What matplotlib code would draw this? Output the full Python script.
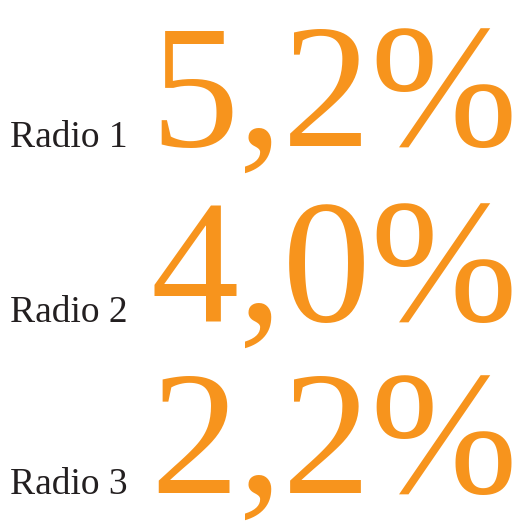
import matplotlib
matplotlib.use("Agg")
import matplotlib.pyplot as plt

labels = ["Radio 1", "Radio 2", "Radio 3"]
values = ["5,2%", "4,0%", "2,2%"]

W, H = 524, 521
fig = plt.figure(figsize=(W/100, H/100), dpi=100)
fig.patch.set_facecolor("white")

baselines = [147, 322, 494]
orange = "#F7941D"
for lab, val, b in zip(labels, values, baselines):
    y = 1 - b / H
    fig.text(10 / W, y, lab, fontsize=27, family="Liberation Serif",
             color="#231F20", ha="left", va="baseline")
    fig.text(150 / W, y, val, fontsize=127, family="Liberation Serif",
             color=orange, ha="left", va="baseline")

fig.savefig("out.png", dpi=100)
